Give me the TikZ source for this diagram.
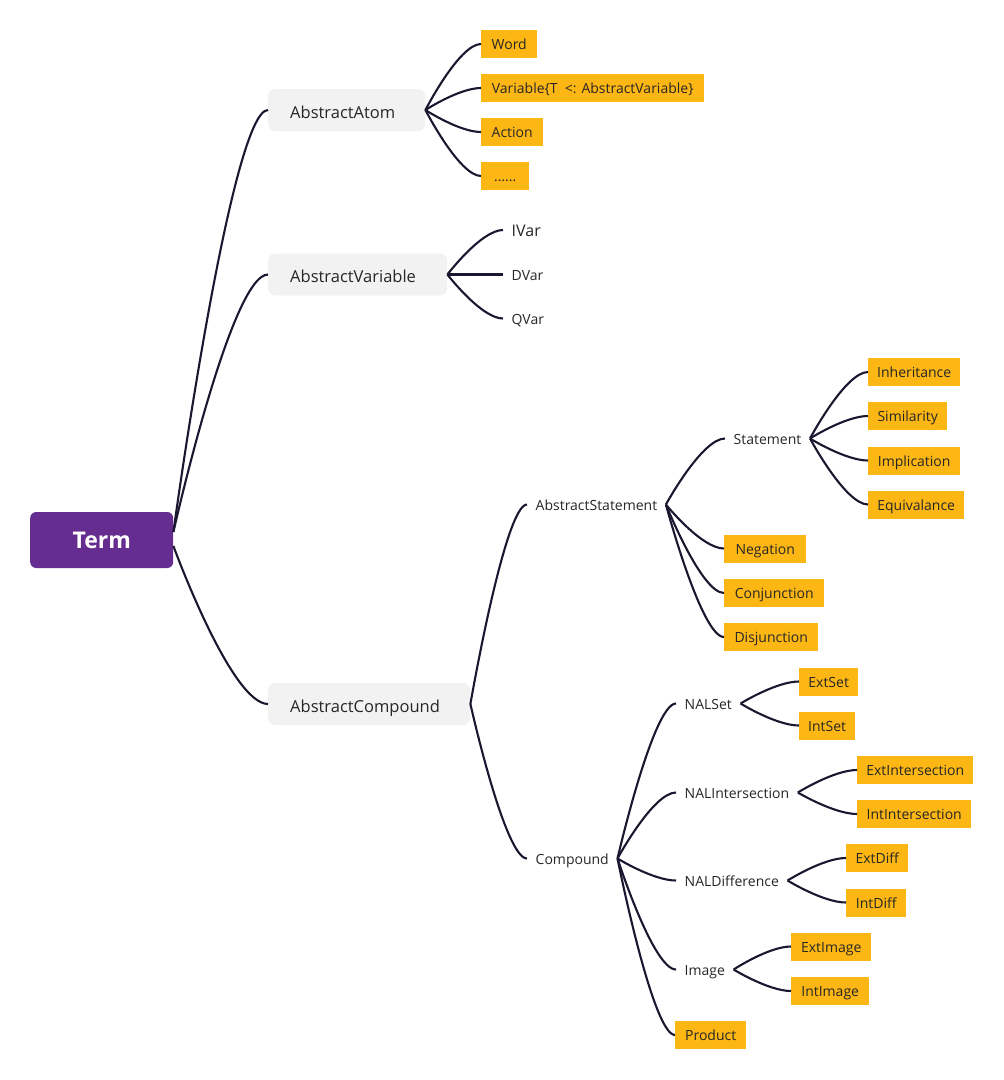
\documentclass[tikz,border=0pt]{standalone}
\usepackage{fontspec}
\setmainfont{Open Sans}
\usetikzlibrary{calc}
\definecolor{orng}{HTML}{FDB714}
\definecolor{purp}{HTML}{662D91}
\definecolor{gry}{HTML}{F2F2F2}
\definecolor{lin}{HTML}{1A1830}
\definecolor{txt}{HTML}{262626}
\newcommand\mmconn[2]{\draw[conn] let \p1=(#1), \p2=(#2) in (\p1) .. controls (\p1) and ({\x2-0.39*(\x2-\x1)},\y2) .. (\p2);}
\begin{document}
\begin{tikzpicture}[x=1pt,y=-1pt,
  obox/.style={fill=orng, text=txt, font=\fontsize{14}{16}\selectfont, minimum height=28pt, inner sep=0pt, text height=11pt, text depth=0pt, anchor=west, minimum width=#1},
  gbox/.style={fill=gry, rounded corners=7pt, text=txt, font=\fontsize{16.5}{19}\selectfont, minimum height=42pt, inner xsep=22pt, inner ysep=0pt, text height=16pt, text depth=0pt, anchor=west, text width=#1, align=left},
  lbl/.style={text=txt, font=\fontsize{14}{16}\selectfont, inner xsep=8.5pt, inner ysep=2pt, text height=11pt, text depth=0pt, anchor=west},
  termbox/.style={fill=purp, rounded corners=6pt, text=white, font=\fontsize{23}{26}\selectfont\bfseries, minimum width=143pt, minimum height=56pt, inner sep=0pt, anchor=west},
  conn/.style={draw=lin, line width=2.1pt}]
\useasboundingbox (0,0) rectangle (1004,1080);

% root and main branches
\node[termbox] (term) at (30,540) {Term};
\node[gbox=113pt] (atom) at (268,110) {AbstractAtom};
\node[gbox=135pt] (avar) at (268,274.5) {AbstractVariable};
\node[gbox=158pt] (acomp) at (268,704) {AbstractCompound};

% AbstractAtom children
\node[obox=56pt] (word) at (481,44) {Word};
\node[obox=223pt] (varx) at (481,88) {Variable\{T\ \ <: AbstractVariable\}};
\node[obox=62pt] (action) at (481,132) {Action};
\node[obox=48pt] (dots) at (481,176) {......};

% AbstractVariable children
\node[lbl, font=\fontsize{16}{18}\selectfont, text height=12.5pt] (ivar) at (503,230) {IVar};
\node[lbl] (dvar) at (503,274.5) {DVar};
\node[lbl] (qvar) at (503,318.5) {QVar};

% AbstractCompound children
\node[lbl] (astmt) at (527,504.5) {AbstractStatement};
\node[lbl] (cmpd) at (527,858.5) {Compound};

\node[lbl] (stmt) at (725,438.5) {Statement};
\node[obox=92pt] (inh) at (868,372) {Inheritance};
\node[obox=79pt] (sim) at (868,416) {Similarity};
\node[obox=92pt] (imp) at (868,460.5) {Implication};
\node[obox=96pt] (equ) at (868,504.5) {Equivalance};
\node[obox=82pt] (neg) at (724,548.5) {Negation};
\node[obox=100pt] (conj) at (724,593) {Conjunction};
\node[obox=94pt] (disj) at (724,637) {Disjunction};

\node[lbl] (nalset) at (676,703.5) {NALSet};
\node[lbl] (nalint) at (676,792.5) {NALIntersection};
\node[lbl] (naldiff) at (676,880.5) {NALDifference};
\node[lbl] (image) at (676,969.5) {Image};
\node[obox=71pt] (product) at (675,1035) {Product};

\node[obox=59pt] (extset) at (799,681.5) {ExtSet};
\node[obox=56pt] (intset) at (799,725.5) {IntSet};
\node[obox=116pt] (extint) at (857,770) {ExtIntersection};
\node[obox=114pt] (intint) at (857,814) {IntIntersection};
\node[obox=62pt] (extdiff) at (846,858) {ExtDiff};
\node[obox=60pt] (intdiff) at (846,902.5) {IntDiff};
\node[obox=80pt] (extimg) at (791,946.5) {ExtImage};
\node[obox=78pt] (intimg) at (791,991) {IntImage};

% connectors
\coordinate (tup) at ([yshift=8pt]term.east);
\coordinate (tdn) at ([yshift=-6pt]term.east);
\mmconn{tup}{atom.west}
\mmconn{tup}{avar.west}
\mmconn{tdn}{acomp.west}

\mmconn{atom.east}{word.west}
\mmconn{atom.east}{varx.west}
\mmconn{atom.east}{action.west}
\mmconn{atom.east}{dots.west}

\mmconn{avar.east}{ivar.west}
\mmconn{avar.east}{dvar.west}
\mmconn{avar.east}{qvar.west}

\mmconn{acomp.east}{astmt.west}
\mmconn{acomp.east}{cmpd.west}

\mmconn{astmt.east}{stmt.west}
\mmconn{astmt.east}{neg.west}
\mmconn{astmt.east}{conj.west}
\mmconn{astmt.east}{disj.west}

\mmconn{stmt.east}{inh.west}
\mmconn{stmt.east}{sim.west}
\mmconn{stmt.east}{imp.west}
\mmconn{stmt.east}{equ.west}

\mmconn{cmpd.east}{nalset.west}
\mmconn{cmpd.east}{nalint.west}
\mmconn{cmpd.east}{naldiff.west}
\mmconn{cmpd.east}{image.west}
\mmconn{cmpd.east}{product.west}

\mmconn{nalset.east}{extset.west}
\mmconn{nalset.east}{intset.west}
\mmconn{nalint.east}{extint.west}
\mmconn{nalint.east}{intint.west}
\mmconn{naldiff.east}{extdiff.west}
\mmconn{naldiff.east}{intdiff.west}
\mmconn{image.east}{extimg.west}
\mmconn{image.east}{intimg.west}
\end{tikzpicture}
\end{document}
